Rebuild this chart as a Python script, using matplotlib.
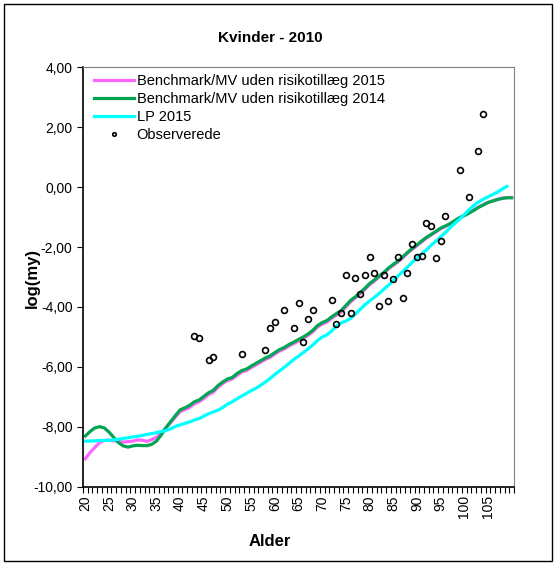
import numpy as np
from matplotlib import pyplot as plt
from matplotlib.patches import Rectangle
from matplotlib.ticker import FuncFormatter

plt.rcParams['font.family'] = ['Liberation Sans', 'DejaVu Sans']

# aldre 20..110
ages = np.arange(20, 111)

bench_2015 = [-9.06, -8.85, -8.68, -8.52, -8.45, -8.44, -8.46, -8.48, -8.50, -8.49,
              -8.47, -8.43, -8.44, -8.48, -8.42, -8.34, -8.20, -8.02, -7.86, -7.67,
              -7.49, -7.42, -7.35, -7.23, -7.16, -7.05, -6.92, -6.84, -6.68, -6.55,
              -6.45, -6.40, -6.28, -6.17, -6.12, -6.02, -5.93, -5.84, -5.75, -5.68,
              -5.57, -5.47, -5.40, -5.30, -5.22, -5.13, -5.05, -4.95, -4.83, -4.67,
              -4.57, -4.50, -4.38, -4.27, -4.17, -4.00, -3.83, -3.70, -3.56, -3.42,
              -3.26, -3.14, -3.00, -2.88, -2.73, -2.61, -2.50, -2.36, -2.21, -2.08,
              -1.96, -1.83, -1.70, -1.60, -1.50, -1.39, -1.32, -1.23, -1.13, -1.03,
              -0.95, -0.87, -0.77, -0.67, -0.59, -0.51, -0.46, -0.41, -0.37, -0.35,
              -0.35]

bench_2014 = [-8.30, -8.15, -8.03, -7.99, -8.03, -8.17, -8.35, -8.52, -8.63, -8.67,
              -8.63, -8.61, -8.62, -8.62, -8.58, -8.47, -8.27, -8.03, -7.82, -7.62,
              -7.43, -7.36, -7.28, -7.16, -7.10, -6.98, -6.86, -6.78, -6.62, -6.50,
              -6.40, -6.35, -6.22, -6.12, -6.07, -5.97, -5.88, -5.79, -5.70, -5.63,
              -5.52, -5.42, -5.35, -5.25, -5.17, -5.08, -5.00, -4.90, -4.78, -4.62,
              -4.52, -4.45, -4.33, -4.22, -4.12, -3.95, -3.78, -3.66, -3.52, -3.38,
              -3.22, -3.10, -2.97, -2.85, -2.70, -2.58, -2.47, -2.33, -2.18, -2.05,
              -1.93, -1.80, -1.68, -1.58, -1.48, -1.37, -1.30, -1.22, -1.12, -1.02,
              -0.95, -0.87, -0.78, -0.68, -0.60, -0.52, -0.47, -0.42, -0.38, -0.36,
              -0.36]

# LP 2015 stopper ved 109
lp_ages = np.arange(20, 110)
lp_2015 = [-8.47, -8.47, -8.46, -8.45, -8.45, -8.44, -8.43, -8.41, -8.38, -8.36,
           -8.33, -8.31, -8.28, -8.25, -8.22, -8.19, -8.15, -8.12, -8.06, -7.98,
           -7.93, -7.88, -7.83, -7.77, -7.72, -7.64, -7.56, -7.50, -7.44, -7.35,
           -7.24, -7.16, -7.06, -6.97, -6.88, -6.79, -6.71, -6.61, -6.50, -6.38,
           -6.25, -6.13, -6.01, -5.88, -5.75, -5.64, -5.52, -5.40, -5.27, -5.12,
           -5.00, -4.93, -4.80, -4.64, -4.53, -4.47, -4.38, -4.24, -4.08, -3.93,
           -3.80, -3.68, -3.55, -3.41, -3.27, -3.12, -2.97, -2.82, -2.67, -2.51,
           -2.37, -2.23, -2.10, -1.94, -1.81, -1.66, -1.52, -1.36, -1.21, -1.07,
           -0.92, -0.76, -0.62, -0.50, -0.41, -0.33, -0.25, -0.17, -0.07, 0.02]

obs_ages = [43, 44, 46, 47, 53, 58, 59, 60, 62, 64, 65, 66, 67, 68, 72, 73, 74, 75,
            76, 77, 78, 79, 80, 81, 82, 83, 84, 85, 86, 87, 88, 89, 90, 91, 92, 93,
            94, 95, 96, 99, 101, 103, 104]
obs_vals = [-4.98, -5.03, -5.77, -5.68, -5.57, -5.42, -4.69, -4.49, -4.10, -4.69,
            -3.86, -5.18, -4.39, -4.10, -3.76, -4.55, -4.20, -2.92, -4.19, -3.02,
            -3.55, -2.92, -2.33, -2.86, -3.95, -2.92, -3.79, -3.06, -2.33, -3.70,
            -2.86, -1.89, -2.33, -2.29, -1.20, -1.30, -2.37, -1.80, -0.95, 0.57,
            -0.32, 1.20, 2.44]

labels = ['Benchmark/MV uden risikotillæg 2015', 'Benchmark/MV uden risikotillæg 2014',
          'LP 2015', 'Observerede']

fig = plt.figure(figsize=(5.58, 5.63), dpi=100)
ax = fig.add_axes([83/558, 1-487/563, (514-83)/558, (487-67)/563])

ax.plot(ages, bench_2015, color='#FF66FF', lw=2.3, label=labels[0])
ax.plot(ages, bench_2014, color='#00A650', lw=2.3, label=labels[1])
ax.plot(lp_ages, lp_2015, color='#00FFFF', lw=2.3, label=labels[2])
ax.plot(obs_ages, obs_vals, 'o', mfc='none', mec='black', ms=4.2, mew=1.2,
        label=labels[3])

ax.set_xlim(19.5, 110.5)
ax.set_ylim(-10, 4)
ax.set_yticks(np.arange(-10, 5, 2))
ax.yaxis.set_major_formatter(FuncFormatter(lambda v, p: f'{v:.2f}'.replace('.', ',')))
ax.set_xticks(np.arange(20, 110, 5))
ax.set_xticks(np.arange(19.5, 111, 1), minor=True)
ax.tick_params(axis='x', which='major', length=0, labelsize=10, labelrotation=90, pad=6)
ax.tick_params(axis='x', which='minor', length=4, width=0.8, direction='out')
ax.tick_params(axis='y', which='major', length=4, width=0.8, labelsize=10, direction='out')

for s in ['top', 'right']:
    ax.spines[s].set_color('#808080')
for s in ['left', 'bottom']:
    ax.spines[s].set_color('black')
    ax.spines[s].set_linewidth(1.2)

leg = ax.legend(loc='upper left', bbox_to_anchor=(87/558, 1-67/563),
                bbox_transform=fig.transFigure, frameon=False, fontsize=10.5,
                handlelength=2.7, handletextpad=0.2, labelspacing=0.26, borderpad=0,
                markerscale=0.6)

fig.text(270/558, 1-38/563, 'Kvinder - 2010', ha='center', va='center',
         fontsize=11, fontweight='bold')
fig.text(270/558, 1-541/563, 'Alder', ha='center', va='center',
         fontsize=12, fontweight='bold')
fig.text(32/558, 1-278/563, 'log(my)', ha='center', va='center', rotation=90,
         fontsize=12, fontweight='bold')

fig.patches.append(Rectangle((4/558, 2/563), 548/558, 557/563, fill=False,
                             edgecolor='black', lw=1, transform=fig.transFigure))

fig.savefig('out.png', dpi=100)
